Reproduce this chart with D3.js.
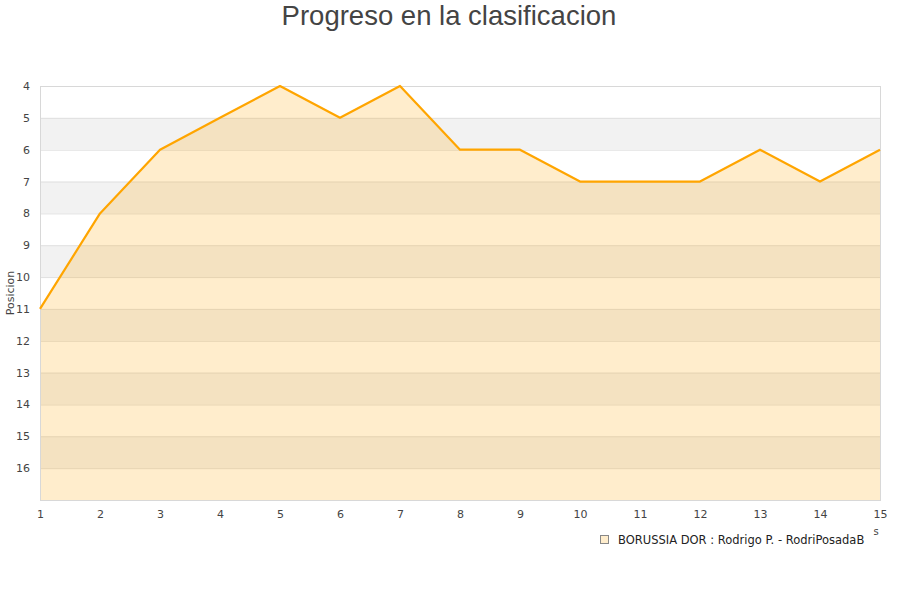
<!DOCTYPE html>
<html>
<head>
<meta charset="utf-8">
<script src="https://cdn.jsdelivr.net/npm/d3@7"></script>
<style>
  body { margin: 0; background: #fff; }
  svg { display: block; font-family: "DejaVu Sans", sans-serif; }
</style>
</head>
<body>
<div id="chart"></div>
<script>
// chart data
const jornadas = [1, 2, 3, 4, 5, 6, 7, 8, 9, 10, 11, 12, 13, 14, 15];
const posiciones = [11, 8, 6, 5, 4, 5, 4, 6, 6, 7, 7, 7, 6, 7, 6];
const yTicks = [4, 5, 6, 7, 8, 9, 10, 11, 12, 13, 14, 15, 16];
const yDomain = [4, 17];
const serieNombre = 'BORUSSIA DOR : Rodrigo P. - RodriPosadaB';
const titulo = 'Progreso en la clasificacion';

const width = 900, height = 600;
// margin -> [top, bottom, left, right]
const margin = [86, 100, 40, 20];

const svg = d3.select('#chart').append('svg')
    .attr('width', width).attr('height', height);

const chartW = width - margin[2] - margin[3],
      chartH = height - margin[0] - margin[1];

const scaleX = d3.scaleLinear([1, 15], [0, chartW]);
const scaleY = d3.scaleLinear(yDomain, [0, chartH]);

const chart = svg.append('g')
    .attr('transform', `translate(${margin[2]},${margin[0]})`);

// alternating bands
const bands = d3.range(yDomain[0], yDomain[1]);
chart.selectAll('rect.band')
    .data(bands)
    .join('rect')
    .classed('band', true)
    .attr('x', 0).attr('width', chartW)
    .attr('y', d => scaleY(d))
    .attr('height', d => scaleY(d + 1) - scaleY(d))
    .attr('fill', d => d % 2 === 1 ? '#f2f2f2' : '#ffffff');

// gridlines
chart.selectAll('line.grid')
    .data(yTicks)
    .join('line')
    .classed('grid', true)
    .attr('x1', 0).attr('x2', chartW)
    .attr('y1', d => scaleY(d) + 0.5).attr('y2', d => scaleY(d) + 0.5)
    .attr('stroke', '#e0e0e0');

const pts = jornadas.map((j, i) => [j, posiciones[i]]);

// area under line
const area = d3.area()
    .x(d => scaleX(d[0]))
    .y0(chartH)
    .y1(d => scaleY(d[1]));
chart.append('path')
    .datum(pts)
    .attr('d', area)
    .attr('fill', 'rgba(255,165,0,0.2)');

// frame
chart.append('rect')
    .attr('x', 0.5).attr('y', 0.5)
    .attr('width', chartW).attr('height', chartH)
    .attr('fill', 'none').attr('stroke', '#d8d8d8');

const line = d3.line()
    .x(d => scaleX(d[0]))
    .y(d => scaleY(d[1]));
chart.append('path')
    .datum(pts)
    .attr('d', line)
    .attr('fill', 'none')
    .attr('stroke', '#ffa500')
    .attr('stroke-width', 2.2)
    .attr('stroke-linejoin', 'round');

// axes
const axisY = chart.append('g')
    .call(d3.axisLeft(scaleY).tickValues(yTicks).tickSize(0).tickPadding(10));
axisY.select('.domain').remove();
axisY.selectAll('text').attr('fill', '#444').style('font-size', '11px')
    .style('font-family', '"DejaVu Sans", sans-serif');

const axisX = chart.append('g')
    .attr('transform', `translate(0,${chartH})`)
    .call(d3.axisBottom(scaleX).tickValues(jornadas).tickFormat(d3.format('d')).tickSize(0).tickPadding(10));
axisX.select('.domain').remove();
axisX.selectAll('text').attr('fill', '#444').style('font-size', '11px')
    .style('font-family', '"DejaVu Sans", sans-serif');

// labels
svg.append('text')
    .attr('transform', `translate(14,${margin[0] + scaleY(10.5)})rotate(-90)`)
    .style('text-anchor', 'middle')
    .style('font-size', '11px')
    .attr('fill', '#444')
    .text('Posicion');

svg.append('text')
    .attr('x', width / 2 - 1).attr('y', 25)
    .style('text-anchor', 'middle')
    .style('font-family', '"Liberation Sans", Arial, sans-serif')
    .style('font-size', '27.5px')
    .attr('fill', '#444')
    .text(titulo);

// clipped remnant of x label
svg.append('text')
    .attr('x', 876).attr('y', 535)
    .style('text-anchor', 'middle')
    .style('font-size', '10px')
    .attr('fill', '#444')
    .text('s');

// legend
const legend = svg.append('g').attr('transform', 'translate(600,535)');
legend.append('rect')
    .attr('x', 0.5).attr('y', 0.5).attr('width', 8).attr('height', 8)
    .attr('fill', '#ffedcc').attr('stroke', '#888');
legend.append('text')
    .attr('x', 18).attr('y', 8.5)
    .style('font-size', '11.5px')
    .attr('fill', '#222')
    .text(serieNombre);
</script>
</body>
</html>
